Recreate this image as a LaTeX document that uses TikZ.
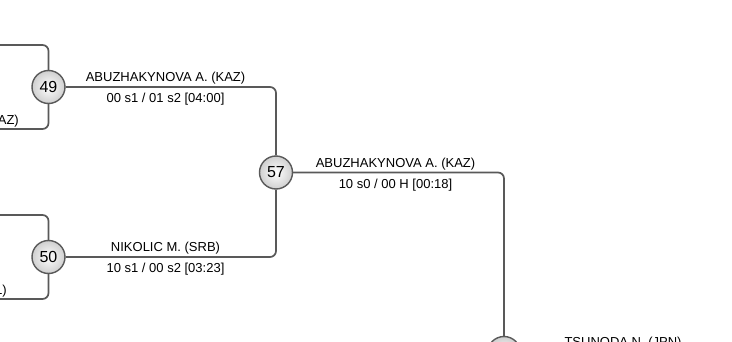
\documentclass[tikz,border=0pt]{standalone}
\usepackage{fontspec}
\setmainfont{Liberation Sans}
\usetikzlibrary{positioning,calc}
\definecolor{linegray}{HTML}{595959}
\definecolor{ballgray}{HTML}{CFCFCF}
\tikzset{%
	bout/.style     = {draw=linegray, line width=1.4pt, circle, minimum size=33pt, inner sep=0pt, inner color=white, outer color=ballgray, font=\fontsize{16}{16}\selectfont}, % Bout number
	player/.style   = {anchor=base, inner sep=0pt, font=\fontsize{13}{13}\selectfont}, % Winner
	result/.style   = {anchor=base, inner sep=0pt, font=\fontsize{13}{13}\selectfont}, % Score
	waypoint/.style = {coordinate},
	bracket/.style  = {draw=linegray, line width=1.7pt, rounded corners=6pt},
}

\begin{document}
\begin{tikzpicture}[x=1pt, y=-1pt]
	\useasboundingbox (0,0) rectangle (732,342);
	\clip (0,0) rectangle (732,342);
	\node[bout] (b49) at (48.5,87) {49};
	\node[bout] (b50) at (48.5,257) {50};
	\node[bout] (b57) at (276,172.5) {57};
	\node[bout] (next) at (504,353) {};
	\node[waypoint] (in49a) at (-10,45) {};
	\node[waypoint] (in49b) at (-10,129) {};
	\node[waypoint] (in50a) at (-10,215) {};
	\node[waypoint] (in50b) at (-10,299) {};
	
	\draw[bracket] (b49) |- (in49a);
	\draw[bracket] (b49) |- (in49b);
	\draw[bracket] (b50) |- (in50a);
	\draw[bracket] (b50) |- (in50b);
	\draw[bracket] (b49) -| (b57);
	\draw[bracket] (b50) -| (b57);
	\draw[bracket] (b57) -| (next);
	
	\node[player, anchor=base east] at (19,124.5) {AZ)};
	\node[player, anchor=base east] at (7,294.5) {L)};
	\node[player] at (165.5,82) {ABUZHAKYNOVA A. (KAZ)};
	\node[result] at (165.5,102.7) {00 s1 / 01 s2 [04:00]};
	\node[player] at (165.5,252) {NIKOLIC M. (SRB)};
	\node[result] at (165.5,272.5) {10 s1 / 00 s2 [03:23]};
	\node[player] at (395.5,168) {ABUZHAKYNOVA A. (KAZ)};
	\node[result] at (395.5,188.5) {10 s0 / 00 H [00:18]};
	\node[player] at (623,346) {TSUNODA N. (JPN)};
\end{tikzpicture}
\end{document}
